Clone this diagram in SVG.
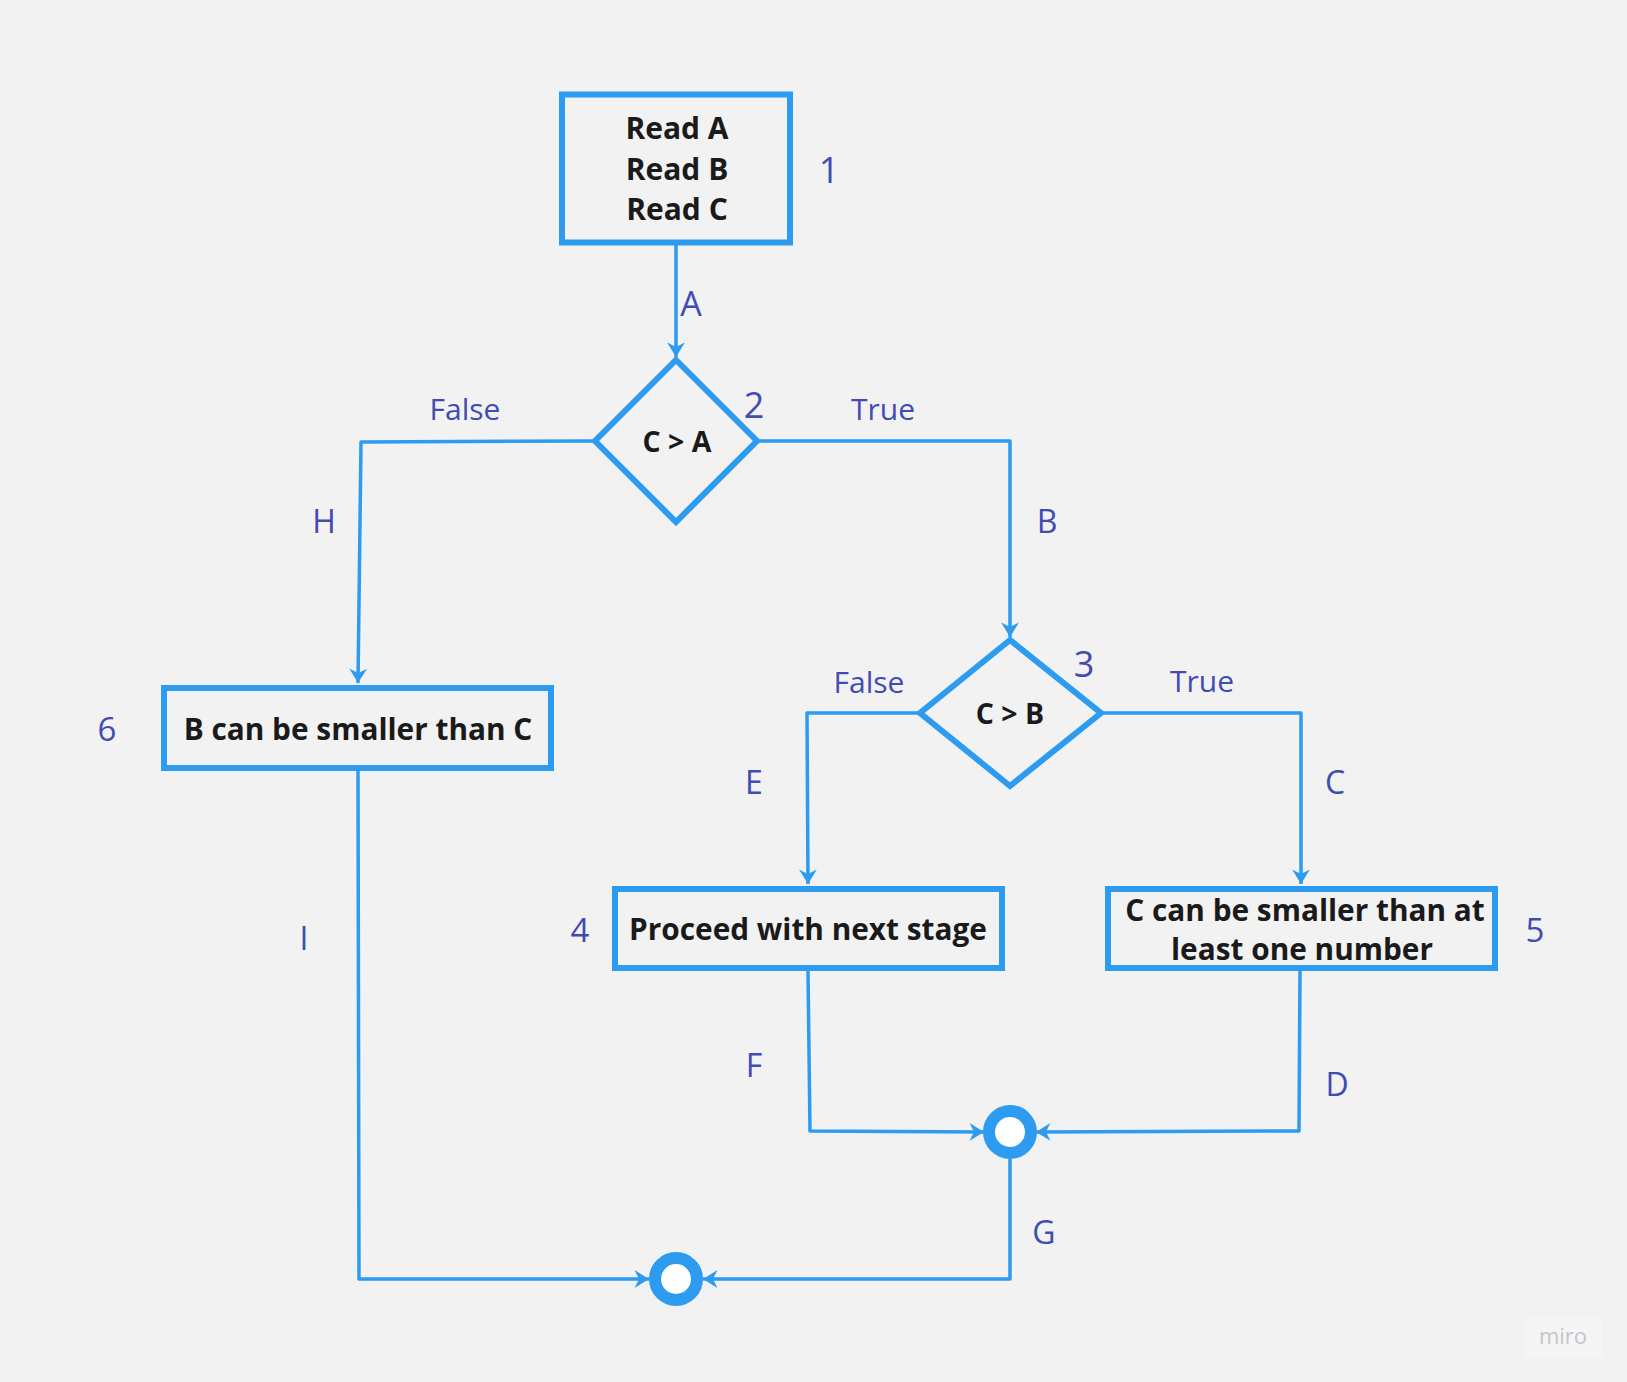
<svg xmlns="http://www.w3.org/2000/svg" width="1627" height="1382" viewBox="0 0 1627 1382">
<defs>
<style>
.bg{fill:#f2f2f2}
.box{fill:#f2f2f2;stroke:#2d9bf0;stroke-width:6}
.dia{fill:#f2f2f2;stroke:#2d9bf0;stroke-width:6;stroke-linejoin:miter}
.nt{font-family:"Open Sans","Liberation Sans",sans-serif;font-weight:bold;fill:#1a1a1a;text-anchor:middle}
.lb{font-family:"Open Sans","Liberation Sans",sans-serif;fill:#414bb2;text-anchor:middle}
.ln{fill:none;stroke:#2d9bf0;stroke-width:3.5;stroke-linejoin:round}
.jn{fill:#ffffff;stroke:#2d9bf0;stroke-width:12}
</style>
<marker id="ar" markerUnits="userSpaceOnUse" markerWidth="20" markerHeight="20" viewBox="-14 -9 16 18" refX="0" refY="0" orient="auto">
<path d="M0,0 L-13,-8 L-9,0 L-13,8 Z" fill="#2d9bf0"/>
</marker>
</defs>
<rect class="bg" x="0" y="0" width="1627" height="1382"/>

<g id="connectors">
<path id="cA" class="ln" d="M676,245 L676,357" marker-end="url(#ar)"/>
<path id="cH" class="ln" d="M595,441 L361,442 L358,683" marker-end="url(#ar)"/>
<path id="cB" class="ln" d="M757,441 L1010,441 L1010,637" marker-end="url(#ar)"/>
<path id="cE" class="ln" d="M920,713 L807,713 L808,884" marker-end="url(#ar)"/>
<path id="cC" class="ln" d="M1101,713 L1301,713 L1301,884" marker-end="url(#ar)"/>
<path id="cF" class="ln" d="M808,971 L810,1131 L984,1132" marker-end="url(#ar)"/>
<path id="cD" class="ln" d="M1300,971 L1299,1131 L1036,1132" marker-end="url(#ar)"/>
<path id="cG" class="ln" d="M1010,1159 L1010,1279 L703,1279" marker-end="url(#ar)"/>
<path id="cI" class="ln" d="M358,771 L359,1279 L649,1279" marker-end="url(#ar)"/>
</g>

<g id="n1">
<rect class="box" x="562" y="94.5" width="228" height="148"/>
<text class="nt" font-size="30" x="677" y="139">Read A</text>
<text class="nt" font-size="30" x="677" y="180">Read B</text>
<text class="nt" font-size="30" x="677" y="220">Read C</text>
</g>
<g id="n2">
<polygon class="dia" points="676,360 757,441 676,522 595,441"/>
<text class="nt" font-size="28.5" x="677" y="452">C &gt; A</text>
</g>
<g id="n3">
<polygon class="dia" points="1010,640 1101,713 1010,786 920,713"/>
<text class="nt" font-size="28.5" x="1010" y="724">C &gt; B</text>
</g>
<g id="n6">
<rect class="box" x="164" y="688" width="387" height="80"/>
<text class="nt" font-size="29.8" x="358" y="740">B can be smaller than C</text>
</g>
<g id="n4">
<rect class="box" x="615" y="889" width="387" height="79"/>
<text class="nt" font-size="29.8" x="808" y="940">Proceed with next stage</text>
</g>
<g id="n5">
<rect class="box" x="1108" y="889" width="387" height="79"/>
<text class="nt" font-size="29.8" x="1305" y="921">C can be smaller than at</text>
<text class="nt" font-size="29.8" x="1302" y="960">least one number</text>
</g>
<g id="j1">
<circle class="jn" cx="1010" cy="1132" r="21"/>
</g>
<g id="j2">
<circle class="jn" cx="676" cy="1279" r="21"/>
</g>

<g id="labels">
<text class="lb" font-size="36" x="829" y="183">1</text>
<text class="lb" font-size="34" x="691" y="316">A</text>
<text class="lb" font-size="36" x="754" y="418">2</text>
<text class="lb" font-size="30" x="465" y="420">False</text>
<text class="lb" font-size="30" x="883" y="420">True</text>
<text class="lb" font-size="32" x="324" y="533">H</text>
<text class="lb" font-size="32" x="1047" y="533">B</text>
<text class="lb" font-size="36" x="1084" y="677">3</text>
<text class="lb" font-size="30" x="869" y="693">False</text>
<text class="lb" font-size="30" x="1202" y="692">True</text>
<text class="lb" font-size="33" x="107" y="741">6</text>
<text class="lb" font-size="32" x="754" y="794">E</text>
<text class="lb" font-size="32" x="1335" y="794">C</text>
<text class="lb" font-size="33" x="580" y="942">4</text>
<text class="lb" font-size="33" x="1535" y="942">5</text>
<text class="lb" font-size="32" x="304" y="950">I</text>
<text class="lb" font-size="32" x="754" y="1077">F</text>
<text class="lb" font-size="32" x="1337" y="1096">D</text>
<text class="lb" font-size="32" x="1044" y="1244">G</text>
</g>

<g id="watermark">
<rect x="1525" y="1317" width="77" height="41" fill="#f5f5f5"/>
<text x="1563" y="1344" font-family="Open Sans, Liberation Sans, sans-serif" font-size="22" fill="#c4c4cc" text-anchor="middle">miro</text>
</g>
</svg>
